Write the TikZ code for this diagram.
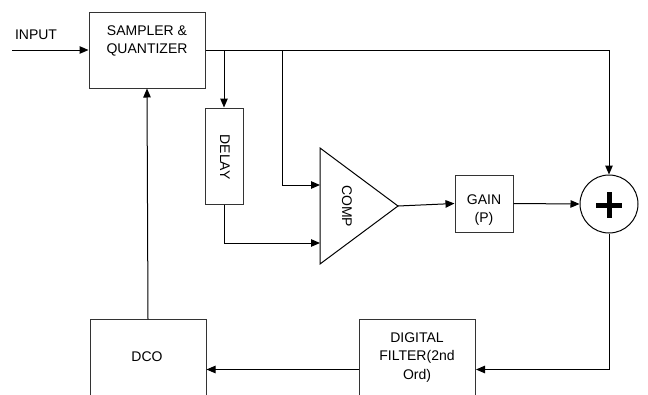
\documentclass[tikz,border=0pt]{standalone}
\usepackage{fontspec}
\setmainfont{Liberation Sans}
\usetikzlibrary{arrows.meta}
\begin{document}
\begin{tikzpicture}[x=1pt,y=-1pt,
  every node/.style={font=\fontsize{14}{18.5}\selectfont},
  blk/.style={draw=black!80,line width=1pt,inner sep=0pt},
  lbl/.style={align=center,inner sep=0pt},
  wire/.style={line width=1pt,-{Triangle[length=9pt,width=7.5pt]}},
  plain/.style={line width=1pt}]
\clip (0,0) rectangle (648,394);
\useasboundingbox (0,0) rectangle (648,394);
% blocks
\node[blk,minimum width=116pt,minimum height=76pt] (sq) at (147,50) {};
\node[lbl] (sqt) at (147,41) {SAMPLER \&\\QUANTIZER};
\node[blk,minimum width=38pt,minimum height=96pt] (dl) at (224,156) {};
\node[lbl,rotate=-90] (dlt) at (225,157) {DELAY};
\node[blk,minimum width=58pt,minimum height=57pt] (gn) at (484,203.5) {};
\node[lbl] (gnt) at (484,210) {GAIN\\(P)};
\node[draw=black,line width=1pt,circle,minimum size=58pt,inner sep=0pt] (sum) at (609,204) {};
\node[blk,minimum width=116pt,minimum height=100pt,anchor=north west] (dco) at (89.5,319) {};
\node[lbl] (dcot) at (147,357) {DCO};
\node[blk,minimum width=116pt,minimum height=100pt,anchor=north west] (flt) at (359,319) {};
\node[lbl] (fltt) at (417,357.5) {DIGITAL\\FILTER(2nd\\Ord)};
% comparator triangle
\coordinate (ct) at (320,148);
\coordinate (cb) at (320,264);
\coordinate (co) at (398,206);
\draw[line width=1pt,line join=miter] (ct) -- (co) -- (cb) -- cycle;
\node[lbl,rotate=-90] (cmp) at (347,206) {COMP};
\coordinate (cin1) at (320,185);
\coordinate (cin2) at (320,243);
% plus sign
\draw[line width=5pt] (596,205) -- (622,205);
\draw[line width=5pt] (609,192) -- (609,218);
% input
\coordinate (in) at (12,50);
\node[lbl] (inl) at (36,35) {INPUT};
\draw[wire] (in) -- (sq.west);
% top line to sum
\draw[wire] (sq.east) -- (sq.east -| sum.north) -- (sum.north);
\coordinate (b1) at (224,50);
\coordinate (b2) at (282,50);
\draw[wire] (b1) -- (dl.north);
\draw[wire] (b2) -- (b2 |- cin1) -- (cin1);
\draw[wire] (dl.south) -- (dl.south |- cin2) -- (cin2);
\draw[wire] (co) -- (gn.west);
\draw[wire] (gn.east) -- (sum.west);
\draw[wire] (sum.south) -- (sum.south |- flt.east) -- (flt.east);
\draw[wire] (flt.west) -- (dco.east);
\draw[wire] (dco.north) -- (sq.south);
\end{tikzpicture}
\end{document}
